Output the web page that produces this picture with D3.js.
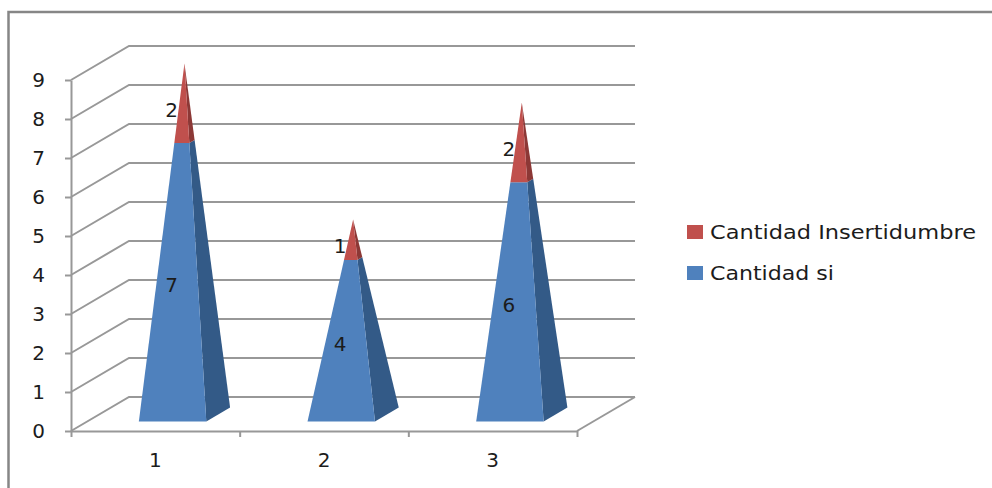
<!DOCTYPE html>
<html>
<head>
<meta charset="utf-8">
<script src="https://cdn.jsdelivr.net/npm/d3@7"></script>
<style>
  html, body { margin: 0; padding: 0; background: #fff; overflow: hidden; }
  text { font-family: "DejaVu Sans", sans-serif; fill: #1c1c1c; }
</style>
</head>
<body>
<div id="chart"></div>
<script>
const categories = ["1", "2", "3"]
const cantidadSi = [7, 4, 6]
const cantidadInsertidumbre = [2, 1, 2]
const yTicks = [0, 1, 2, 3, 4, 5, 6, 7, 8, 9]
const seriesNames = ["Cantidad Insertidumbre", "Cantidad si"]
const legendWidths = [266, 124]

const width = 992
const height = 488
const fontSize = 20
const gridColor = "#989898"
const colors = {
  si: { front: "#4f81bd", side: "#335a87" },
  ins: { front: "#c0504d", side: "#8c3836" },
}

// front of the floor in px, the walls are pushed back by depthX/depthY
const plot = { left: 71, right: 577, bottom: 431, top: 80 }
const depthX = 58
const depthY = -34
const depthNear = 0.28
const depthFar = 0.69

const svg = d3.select("#chart").append("svg")
  .attr("width", width)
  .attr("height", height)
  .style("display", "block")

// chart frame
svg.append("path")
  .attr("d", "M992,12H8.5V488")
  .attr("fill", "none")
  .attr("stroke", "#868686")
  .attr("stroke-width", 2.5)

const xScale = d3.scaleBand()
  .domain(categories)
  .range([plot.left + 1, plot.right + 1])
  .paddingInner(0.6)
  .paddingOuter(0.3)
const yScale = d3.scaleLinear()
  .domain([0, 9])
  .range([plot.bottom, plot.top])

// px position of (x px, value, depth 0..1)
const project = (x, v, d) => [x + d * depthX, yScale(v) + d * depthY]

const grid = svg.append("g")
  .attr("fill", "none")
  .attr("stroke", gridColor)
  .attr("stroke-width", 2)

grid.selectAll("path")
  .data(yTicks)
  .join("path")
    .attr("d", d => d3.line()([
      project(plot.left, d, 0),
      project(plot.left, d, 1),
      project(plot.right, d, 1),
    ]))

// right edge of the floor
grid.append("path")
  .attr("d", d3.line()([
    project(plot.right, 0, 0),
    project(plot.right, 0, 1),
  ]))

const styleAxis = (g) => {
  g.selectAll(".domain").attr("stroke", gridColor).attr("stroke-width", 2)
  g.selectAll(".tick line").attr("stroke", gridColor).attr("stroke-width", 2)
  g.selectAll(".tick text")
    .style("font-family", '"DejaVu Sans", sans-serif')
    .style("font-size", `${fontSize}px`)
}

const yAxisGenerator = d3.axisLeft(yScale)
  .tickValues(yTicks)
  .tickSize(6)
  .tickSizeOuter(0)
  .tickPadding(20)
svg.append("g")
  .attr("transform", `translate(${plot.left}, 0)`)
  .call(yAxisGenerator)
  .call(styleAxis)

const xTickScale = d3.scaleLinear()
  .domain([0, categories.length])
  .range([plot.left, plot.right])
const xAxisGenerator = d3.axisBottom(xTickScale)
  .tickValues(d3.range(categories.length + 1))
  .tickSize(6)
  .tickSizeOuter(0)
  .tickFormat("")
svg.append("g")
  .attr("transform", `translate(0, ${plot.bottom})`)
  .call(xAxisGenerator)
  .call(styleAxis)

svg.selectAll(".cat-label")
  .data(categories)
  .join("text")
    .attr("class", "cat-label")
    .attr("x", (d, i) => (xTickScale(i) + xTickScale(i + 1)) / 2)
    .attr("y", 467)
    .attr("text-anchor", "middle")
    .attr("font-size", fontSize)
    .text(d => d)

// one pyramid, cut into a bottom and a top slice
const pyramids = svg.append("g")
const labels = svg.append("g")

categories.forEach((cat, i) => {
  const low = cantidadSi[i]
  const total = low + cantidadInsertidumbre[i]
  const x0 = xScale(cat)
  const x1 = x0 + xScale.bandwidth()

  const fl = project(x0, 0, depthNear)
  const fr = project(x1, 0, depthNear)
  const br = project(x1, 0, depthFar)
  const apex = project((x0 + x1) / 2, total, (depthNear + depthFar) / 2)
  const cut = (p, v) => [
    p[0] + (apex[0] - p[0]) * v / total,
    p[1] + (apex[1] - p[1]) * v / total,
  ]

  const slices = [
    { from: 0, to: low, color: colors.si },
    { from: low, to: total, color: colors.ins },
  ]
  slices.forEach((s) => {
    pyramids.append("path")
      .attr("fill", s.color.side)
      .attr("d", d3.line()([cut(fr, s.from), cut(br, s.from), cut(br, s.to), cut(fr, s.to)]) + "Z")
    pyramids.append("path")
      .attr("fill", s.color.front)
      .attr("d", d3.line()([cut(fl, s.from), cut(fr, s.from), cut(fr, s.to), cut(fl, s.to)]) + "Z")

    // data label sits a bit left of the slice middle
    const mid = project((x0 + x1) / 2, (s.from + s.to) / 2, depthNear)
    labels.append("text")
      .attr("x", mid[0] - 1)
      .attr("y", mid[1])
      .attr("dy", "0.36em")
      .attr("text-anchor", "middle")
      .attr("font-size", fontSize)
      .text(s.to - s.from)
  })
})

// legend, the text is stretched wide in the picture
const legend = svg.append("g")
const legendColors = [colors.ins.front, colors.si.front]
const legendY = [232, 273]
seriesNames.forEach((name, i) => {
  legend.append("rect")
    .attr("x", 687)
    .attr("y", legendY[i] - 7)
    .attr("width", 16)
    .attr("height", 14)
    .attr("fill", legendColors[i])
  legend.append("text")
    .attr("x", 710)
    .attr("y", legendY[i])
    .attr("dy", "0.36em")
    .attr("font-size", fontSize)
    .attr("textLength", legendWidths[i])
    .attr("lengthAdjust", "spacingAndGlyphs")
    .text(name)
})
</script>
</body>
</html>
